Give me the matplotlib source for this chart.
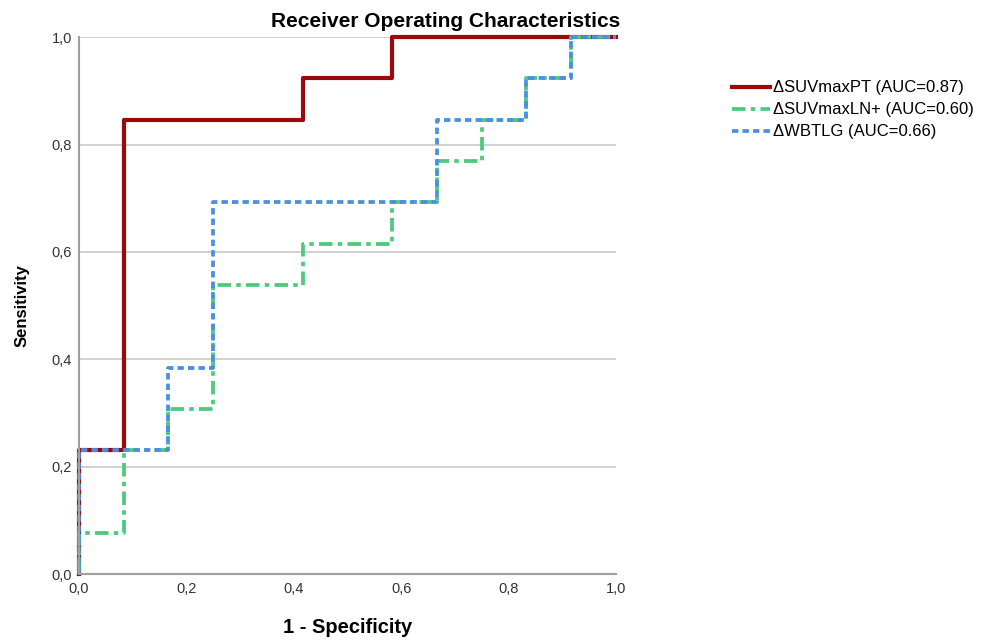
import matplotlib.pyplot as plt
from matplotlib.ticker import FuncFormatter

plt.rcParams['font.family'] = ['Liberation Sans', 'DejaVu Sans']

# ROC vertices (1 - specificity, sensitivity)
pt_fpr = [0, 0, 0.0833, 0.0833, 0.4167, 0.4167, 0.5833, 0.5833, 1.0]
pt_tpr = [0, 0.2308, 0.2308, 0.8462, 0.8462, 0.9231, 0.9231, 1.0, 1.0]

ln_fpr = [0, 0, 0.0833, 0.0833, 0.1667, 0.1667, 0.25, 0.25, 0.4167, 0.4167,
          0.5833, 0.5833, 0.6667, 0.6667, 0.75, 0.75, 0.8333, 0.8333,
          0.9167, 0.9167, 1.0]
ln_tpr = [0, 0.0769, 0.0769, 0.2308, 0.2308, 0.3077, 0.3077, 0.5385, 0.5385,
          0.6154, 0.6154, 0.6923, 0.6923, 0.7692, 0.7692, 0.8462, 0.8462,
          0.9231, 0.9231, 1.0, 1.0]

tlg_fpr = [0, 0, 0.1667, 0.1667, 0.25, 0.25, 0.6667, 0.6667, 0.8333, 0.8333,
           0.9167, 0.9167, 1.0]
tlg_tpr = [0, 0.2308, 0.2308, 0.3846, 0.3846, 0.6923, 0.6923, 0.8462, 0.8462,
           0.9231, 0.9231, 1.0, 1.0]

labels = ['ΔSUVmaxPT (AUC=0.87)', 'ΔSUVmaxLN+ (AUC=0.60)', 'ΔWBTLG (AUC=0.66)']
ticks = [0, 0.2, 0.4, 0.6, 0.8, 1.0]

fig = plt.figure(figsize=(9.87, 6.41), dpi=100)
ax = fig.add_axes([0.080, 0.1045, 0.544, 0.8375])

ax.plot(pt_fpr, pt_tpr, color='#9b0a0a', lw=3.0, label=labels[0])
ax.plot(ln_fpr, ln_tpr, color='#4cc97a', lw=2.7,
        linestyle=(0, (3.6, 1.4, 1.2, 1.4)), label=labels[1])
ax.plot(tlg_fpr, tlg_tpr, color='#4a8fe0', lw=2.7,
        linestyle=(0, (1.7, 1.1)), label=labels[2])

ax.set_xlim(0, 1)
ax.set_ylim(0, 1)
ax.set_xticks(ticks)
ax.set_yticks(ticks)
fmt = FuncFormatter(lambda v, p: f'{v:.1f}'.replace('.', ','))
ax.xaxis.set_major_formatter(fmt)
ax.yaxis.set_major_formatter(fmt)
ax.tick_params(length=0, labelsize=10.5, colors='#333333')
ax.tick_params(axis='x', pad=6)
ax.tick_params(axis='y', pad=5)
ax.yaxis.grid(True, color='#c8c8c8', lw=1.2)
ax.set_axisbelow(True)
for s in ['top', 'right']:
    ax.spines[s].set_visible(False)
for s in ['left', 'bottom']:
    ax.spines[s].set_color('#a0a0a0')
    ax.spines[s].set_linewidth(1.5)
for l in ax.lines:
    l.set_clip_on(False)

ax.set_ylabel('Sensitivity', fontsize=12, fontweight='bold', labelpad=16)
fig.text(0.352, 0.021, '1 - Specificity', ha='center', va='center',
         fontsize=14.5, fontweight='bold')
fig.text(0.451, 0.967, 'Receiver Operating Characteristics', ha='center',
         va='center', fontsize=15, fontweight='bold')

fig.legend(loc='upper left', bbox_to_anchor=(0.735, 0.885), frameon=False,
           fontsize=12, handlelength=2.3, handletextpad=0.15, labelspacing=0.42,
           borderaxespad=0)

fig.savefig('out.png', dpi=100)
